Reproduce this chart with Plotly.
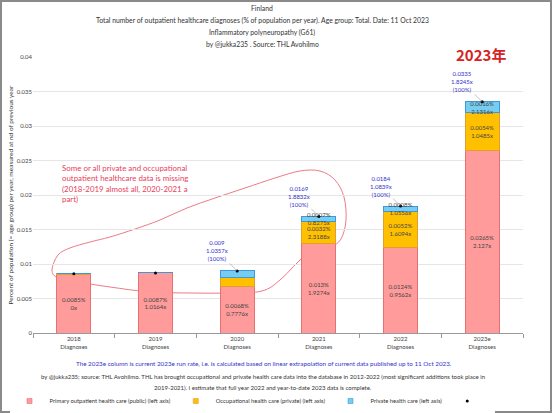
import plotly.graph_objects as go

# ---------------- data ----------------
years = ["2018<br>Diagnoses", "2019<br>Diagnoses", "2020<br>Diagnoses",
         "2021<br>Diagnoses", "2022<br>Diagnoses", "2023e<br>Diagnoses"]

primary = [0.0085, 0.0087, 0.0068, 0.0130, 0.0124, 0.0265]
primary_ratio = ["0x", "1.0164x", "0.7776x", "1.9274x", "0.9562x", "2.127x"]

occupational = [0.0001, 0.0, 0.0012, 0.0032, 0.0052, 0.0054]
occupational_ratio = [None, None, None, "2.3188x", "1.6094x", "1.0485x"]

private = [0.0, 0.0, 0.0010, 0.0007, 0.0008, 0.0016]
private_ratio = [None, None, None, "0.8275x", "1.0556x", "2.1316x"]

totals = [0.0086, 0.0087, 0.009, 0.0169, 0.0184, 0.0335]
totals_ratio = [None, None, "1.0357x", "1.8832x", "1.0839x", "1.8245x"]

title_lines = [
    "Finland",
    "Total number of outpatient healthcare diagnoses (% of population per year). "
    "Age group: Total. Date: 11 Oct 2023",
    "Inflammatory polyneuropathy (G61)",
    "by @jukka235 . Source: THL Avohilmo",
]
footer_lines = [
    "by @jukka235; source: THL Avohilmo. THL has brought occupational and private health "
    "care data into the database in 2012-2022 (most significant additions took place in",
    "2019-2021). I estimate that full year 2022 and year-to-date 2023 data is complete.",
]

FONT = "Lato"
L, R, T, B = 33, 29, 57, 80  # margins (px)
W, H = 552, 413

series = [
    ("Primary outpatient health care (public) (left axis)", primary, primary_ratio, "#ff9b9b", "#e87070"),
    ("Occupational health care (private) (left axis)", occupational, occupational_ratio, "#ffc000", "#e0a030"),
    ("Private health care (left axis)", private, private_ratio, "#77ccf2", "#3d9ad8"),
]


def seg_text(vals, ratios):
    return [f"{v:g}%<br>{r}" if r else "" for v, r in zip(vals, ratios)]


def px2paper(x, y):
    return (x - L) / (W - L - R), (H - B - y) / (H - T - B)


def smooth_loop(points):
    # closed Catmull-Rom spline -> svg bezier path in paper coords
    pts = [px2paper(*p) for p in points]
    n = len(pts)
    d = f"M {pts[0][0]:.4f},{pts[0][1]:.4f}"
    for i in range(n):
        p0, p1, p2, p3 = pts[i - 1], pts[i], pts[(i + 1) % n], pts[(i + 2) % n]
        c1 = (p1[0] + (p2[0] - p0[0]) / 6, p1[1] + (p2[1] - p0[1]) / 6)
        c2 = (p2[0] - (p3[0] - p1[0]) / 6, p2[1] - (p3[1] - p1[1]) / 6)
        d += f" C {c1[0]:.4f},{c1[1]:.4f} {c2[0]:.4f},{c2[1]:.4f} {p2[0]:.4f},{p2[1]:.4f}"
    return d + " Z"


def add_text(x, y, text, family=FONT, **font):
    px, py = px2paper(x, y)
    fig.add_annotation(xref="paper", yref="paper", x=px, y=py, showarrow=False,
                       xanchor="center", yanchor="middle",
                       text=text, font=dict(family=family, **font))


fig = go.Figure()

for name, vals, ratios, fill, edge in series:
    fig.add_trace(go.Bar(
        x=years, y=vals, name=name, showlegend=False,
        marker=dict(color=fill, line=dict(color=edge, width=1)),
        text=seg_text(vals, ratios), textposition="inside",
        insidetextanchor="middle", textfont=dict(size=6, color="#444"),
    ))

fig.add_trace(go.Scatter(
    x=years, y=totals, mode="markers", name=" ", showlegend=False,
    marker=dict(color="black", size=3),
))

# small legend swatches
for name, vals, ratios, fill, edge in series:
    fig.add_trace(go.Scatter(
        x=[None], y=[None], mode="markers", name=name,
        marker=dict(symbol="square", size=5, color=fill, line=dict(color=edge, width=0.6)),
    ))
fig.add_trace(go.Scatter(x=[None], y=[None], mode="markers", name=" ",
                         marker=dict(color="black", size=3)))

# total labels with leader lines
for x, t, r in zip(years, totals, totals_ratio):
    if r:
        fig.add_annotation(
            x=x, y=t, text=f"{t:g}<br>{r}<br>(100%)", showarrow=True,
            arrowhead=0, arrowwidth=0.6, arrowcolor="#999", ax=-20, ay=-20,
            font=dict(size=6, color="#3333cc", family=FONT),
        )

for i, line in enumerate(title_lines):
    add_text(262, 8 + 12 * i, line, size=6.8, color="#333")

fig.add_annotation(
    xref="paper", yref="paper", x=px2paper(60, 0)[0], y=px2paper(0, 161)[1],
    xanchor="left", yanchor="top", align="left", showarrow=False,
    text="Some or all private and occupational<br>outpatient healthcare data is missing"
         "<br>(2018-2019 almost all, 2020-2021 a<br>part)",
    font=dict(size=7.9, color="#e8405a", family=FONT),
)
add_text(481, 55, "<b>2023年</b>", family="Noto Sans CJK SC", size=15, color="#d42424")
add_text(264, 363, "The 2023e column is current 2023e run rate, i.e. is calculated based on linear "
         "extrapolation of current data published up to 11 Oct 2023.", size=6.3, color="#3333cc")
for i, line in enumerate(footer_lines):
    add_text(263, 376 + 11 * i, line, size=6.0, color="#333")

# hand-drawn loop around the early columns
loop = [(52, 270), (58, 255), (70, 248), (90, 242), (110, 237), (135, 229), (160, 220),
        (187, 208), (215, 198), (245, 188), (275, 178), (300, 171), (320, 171),
        (335, 180), (344, 197), (346, 220), (341, 239), (330, 247), (312, 250),
        (298, 262), (280, 280), (262, 291), (230, 293), (190, 293), (150, 292),
        (110, 287), (78, 282), (58, 278)]

fig.add_shape(type="path", path=smooth_loop(loop), xref="paper", yref="paper",
              line=dict(color="#ea6c78", width=0.9), layer="below")

# frame around the whole picture
x0, y0 = px2paper(1, H - 1)
x1, y1 = px2paper(W - 1, 1)
fig.add_shape(type="rect", xref="paper", yref="paper", x0=x0, y0=y0, x1=x1, y1=y1,
              line=dict(color="#8a8a8a", width=2))

fig.update_layout(
    width=W, height=H, barmode="stack", bargap=0.58,
    paper_bgcolor="white", plot_bgcolor="white",
    margin=dict(l=L, r=R, t=T, b=B, autoexpand=False),
    font=dict(family=FONT, size=6, color="#444"),
    uniformtext=dict(minsize=6, mode="show"),
    legend=dict(orientation="h", xref="container", yref="container",
                x=252 / W, xanchor="center", y=12 / H, yanchor="middle",
                font=dict(size=5.8, color="#333"), itemwidth=30,
                traceorder="normal", tracegroupgap=0),
    xaxis=dict(showline=True, linecolor="#999", ticks="outside", tickson="boundaries",
               ticklen=4, tickcolor="#999", tickfont=dict(size=6, color="#444"),
               automargin=False),
    yaxis=dict(range=[0, 0.04], dtick=0.005, showgrid=True, gridcolor="#e6e6e6",
               zeroline=False, tickfont=dict(size=6, color="#444"), ticks="",
               automargin=False,
               title=dict(text="Percent of population (= age group) per year, measured at nd of previous year",
                          font=dict(size=6.5, color="#333"), standoff=2)),
)

# drop the browser's default page margin so the figure fills the window
fig.write_html("out.html", config={"displayModeBar": False},
               post_script="document.body.style.margin='0';")
